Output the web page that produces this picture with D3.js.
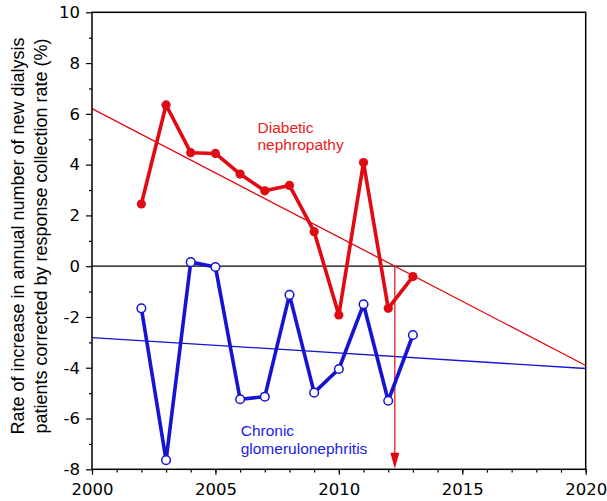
<!DOCTYPE html>
<html>
<head>
<meta charset="utf-8">
<script src="https://cdn.jsdelivr.net/npm/d3@7/dist/d3.min.js"></script>
<style>
  html, body { margin: 0; padding: 0; background: #fff; }
  svg { display: block; }
</style>
</head>
<body>
<svg id="chart" width="607" height="501"></svg>
<script>
// Annual rate of increase in new dialysis patients, 2002-2013
const years = [2002, 2003, 2004, 2005, 2006, 2007, 2008, 2009, 2010, 2011, 2012, 2013];
const diabeticNephropathy = [2.45, 6.35, 4.47, 4.44, 3.63, 2.97, 3.18, 1.36, -1.92, 4.08, -1.66, -0.41];
const chronicGlomerulonephritis = [-1.66, -7.64, 0.16, -0.03, -5.24, -5.14, -1.13, -4.98, -4.05, -1.5, -5.3, -2.71];

const xTicks = [2000, 2005, 2010, 2015, 2020];
const yTicks = [-8, -6, -4, -2, 0, 2, 4, 6, 8, 10];
const yTitle = ["Rate of increase in annual number of new dialysis",
                "patients corrected by response collection rate (%)"];
const seriesLabels = [["Diabetic", "nephropathy"], ["Chronic", "glomerulonephritis"]];

const RED = "#e20a12", BLUE = "#1414d2";
const TICK_FONT = "'DejaVu Sans', Verdana, sans-serif";
const TEXT_FONT = "'Liberation Sans', Arial, Helvetica, sans-serif";

const svg = d3.select("#chart");
const x = d3.scaleLinear().domain([2000, 2020]).range([92, 585.7]);
const y = d3.scaleLinear().domain([-8, 10]).range([469.3, 12.3]);

// least-squares fit of a series against the years
function fit(vals) {
  const mx = d3.mean(years), my = d3.mean(vals);
  let sxy = 0, sxx = 0;
  years.forEach((t, i) => { sxy += (t - mx) * (vals[i] - my); sxx += (t - mx) ** 2; });
  const b = sxy / sxx;
  return { slope: b, at: t => my + b * (t - mx), root: mx - my / b };
}

// minor ticks
svg.append("g").attr("transform", `translate(0,${y(-8)})`)
  .call(d3.axisBottom(x).tickValues(d3.range(2000, 2021)).tickSize(3.3).tickFormat(""))
  .call(g => g.select(".domain").remove())
  .call(g => g.selectAll("line").attr("stroke-width", 1.2));
svg.append("g").attr("transform", `translate(${x(2000)},0)`)
  .call(d3.axisLeft(y).tickValues(d3.range(-7, 10, 2)).tickSize(3).tickFormat(""))
  .call(g => g.select(".domain").remove())
  .call(g => g.selectAll("line").attr("stroke-width", 1.2));

// major ticks and labels
svg.append("g").attr("transform", `translate(0,${y(-8)})`)
  .call(d3.axisBottom(x).tickValues(xTicks).tickSize(5.5).tickPadding(8.5).tickFormat(d => String(d)))
  .call(g => g.select(".domain").remove())
  .call(g => g.selectAll("line").attr("stroke-width", 1.2))
  .call(g => g.selectAll("text").attr("font-family", TICK_FONT).attr("font-size", 16.5).attr("fill", "#000"));
svg.append("g").attr("transform", `translate(${x(2000)},0)`)
  .call(d3.axisLeft(y).tickValues(yTicks).tickSize(6).tickPadding(6).tickFormat(d => String(d)))
  .call(g => g.select(".domain").remove())
  .call(g => g.selectAll("line").attr("stroke-width", 1.2))
  .call(g => g.selectAll("text").attr("font-family", TICK_FONT).attr("font-size", 16.5).attr("fill", "#000"));

// zero reference line
svg.append("line")
  .attr("x1", x(2000)).attr("x2", x(2020)).attr("y1", y(0)).attr("y2", y(0))
  .attr("stroke", "#000").attr("stroke-width", 1.3);

// regression lines
const fitRed = fit(diabeticNephropathy), fitBlue = fit(chronicGlomerulonephritis);
[[fitRed, RED], [fitBlue, BLUE]].forEach(([f, c]) => {
  svg.append("line")
    .attr("x1", x(2000)).attr("y1", y(f.at(2000)))
    .attr("x2", x(2020)).attr("y2", y(f.at(2020)))
    .attr("stroke", c).attr("stroke-width", 1.3);
});

// arrow from the red trend's zero crossing down to the axis
const xr = x(fitRed.root);
svg.append("line")
  .attr("x1", xr).attr("x2", xr).attr("y1", y(0)).attr("y2", y(-8) - 14)
  .attr("stroke", RED).attr("stroke-width", 1.2);
svg.append("path")
  .attr("d", `M${xr - 4.5},${y(-8) - 16.5} L${xr + 4.5},${y(-8) - 16.5} L${xr},${y(-8) - 0.5} Z`)
  .attr("fill", RED);

const line = d3.line().x((d, i) => x(years[i])).y(d => y(d));

// diabetic nephropathy: thick line, filled markers
svg.append("path").datum(diabeticNephropathy).attr("d", line)
  .attr("fill", "none").attr("stroke", RED).attr("stroke-width", 3.6).attr("stroke-linejoin", "round");
svg.selectAll(".dn").data(diabeticNephropathy).join("circle")
  .attr("cx", (d, i) => x(years[i])).attr("cy", d => y(d)).attr("r", 4.6).attr("fill", RED);

// chronic glomerulonephritis: thick line, open markers
svg.append("path").datum(chronicGlomerulonephritis).attr("d", line)
  .attr("fill", "none").attr("stroke", BLUE).attr("stroke-width", 3.6).attr("stroke-linejoin", "round");
svg.selectAll(".cg").data(chronicGlomerulonephritis).join("circle")
  .attr("cx", (d, i) => x(years[i])).attr("cy", d => y(d)).attr("r", 4.3)
  .attr("fill", "#fff").attr("stroke", BLUE).attr("stroke-width", 1.5);

// plot frame
svg.append("rect")
  .attr("x", x(2000)).attr("y", y(10)).attr("width", x(2020) - x(2000)).attr("height", y(-8) - y(10))
  .attr("fill", "none").attr("stroke", "#000").attr("stroke-width", 1.5);

// series labels
const lab1 = svg.append("text").attr("font-family", TEXT_FONT).attr("font-size", 15.5).attr("fill", "#ee1b1b");
lab1.append("tspan").attr("x", 257.5).attr("y", 132.5).text(seriesLabels[0][0]);
lab1.append("tspan").attr("x", 257.5).attr("y", 150).text(seriesLabels[0][1]);
const lab2 = svg.append("text").attr("font-family", TEXT_FONT).attr("font-size", 15.5).attr("fill", "#2222e6");
lab2.append("tspan").attr("x", 240.7).attr("y", 436).text(seriesLabels[1][0]);
lab2.append("tspan").attr("x", 240.7).attr("y", 453.5).text(seriesLabels[1][1]);

// y-axis title, two rotated lines
yTitle.forEach((t, i) => {
  svg.append("text")
    .attr("transform", `translate(${23.5 + i * 23},236) rotate(-90)`)
    .attr("text-anchor", "middle")
    .attr("font-family", TEXT_FONT).attr("font-size", 18).attr("fill", "#000")
    .text(t);
});
</script>
</body>
</html>
